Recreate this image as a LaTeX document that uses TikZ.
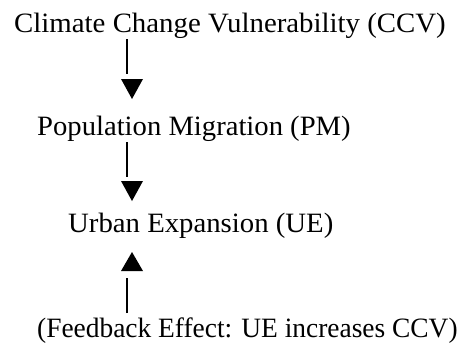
\documentclass[tikz,border=0pt]{standalone}
\usepackage{fontspec}
\setmainfont{Liberation Serif}
\usepackage{tikz}

\begin{document}
\begin{tikzpicture}[x=1pt,y=-1pt,
  every node/.style={inner sep=0pt,anchor=base west,font=\fontsize{28}{34}\selectfont},
  bar/.style={line width=1.6pt},
  head/.style={fill=black}]
  \useasboundingbox (0,0) rectangle (470,343);

  \draw (14,32) node[xscale=1.03] (ccv) {Climate Change Vulnerability (CCV)};
  \draw (37,135) node[xscale=1.023] (pm) {Population Migration (PM)};
  \draw (68,232) node[xscale=1.027] (ue) {Urban Expansion (UE)};
  \draw (37,337) node[xscale=0.979] (fb) {(Feedback Effect: UE increases CCV)};

  \coordinate (ccvout) at (127,39);
  \coordinate (ccvend) at (127,74);
  \coordinate (pmout) at (127,142);
  \coordinate (pmend) at (127,177);
  \coordinate (fbout) at (127,313);
  \coordinate (fbend) at (127,278);

  \draw[bar] (ccvout) -- (ccvend);
  \fill[head] (121,79) -- (143,79) -- (132,99) -- cycle;
  \draw[bar] (pmout) -- (pmend);
  \fill[head] (121,181) -- (143,181) -- (132,201) -- cycle;
  \draw[bar] (fbout) -- (fbend);
  \fill[head] (121,271) -- (143,271) -- (132,252) -- cycle;
\end{tikzpicture}
\end{document}
